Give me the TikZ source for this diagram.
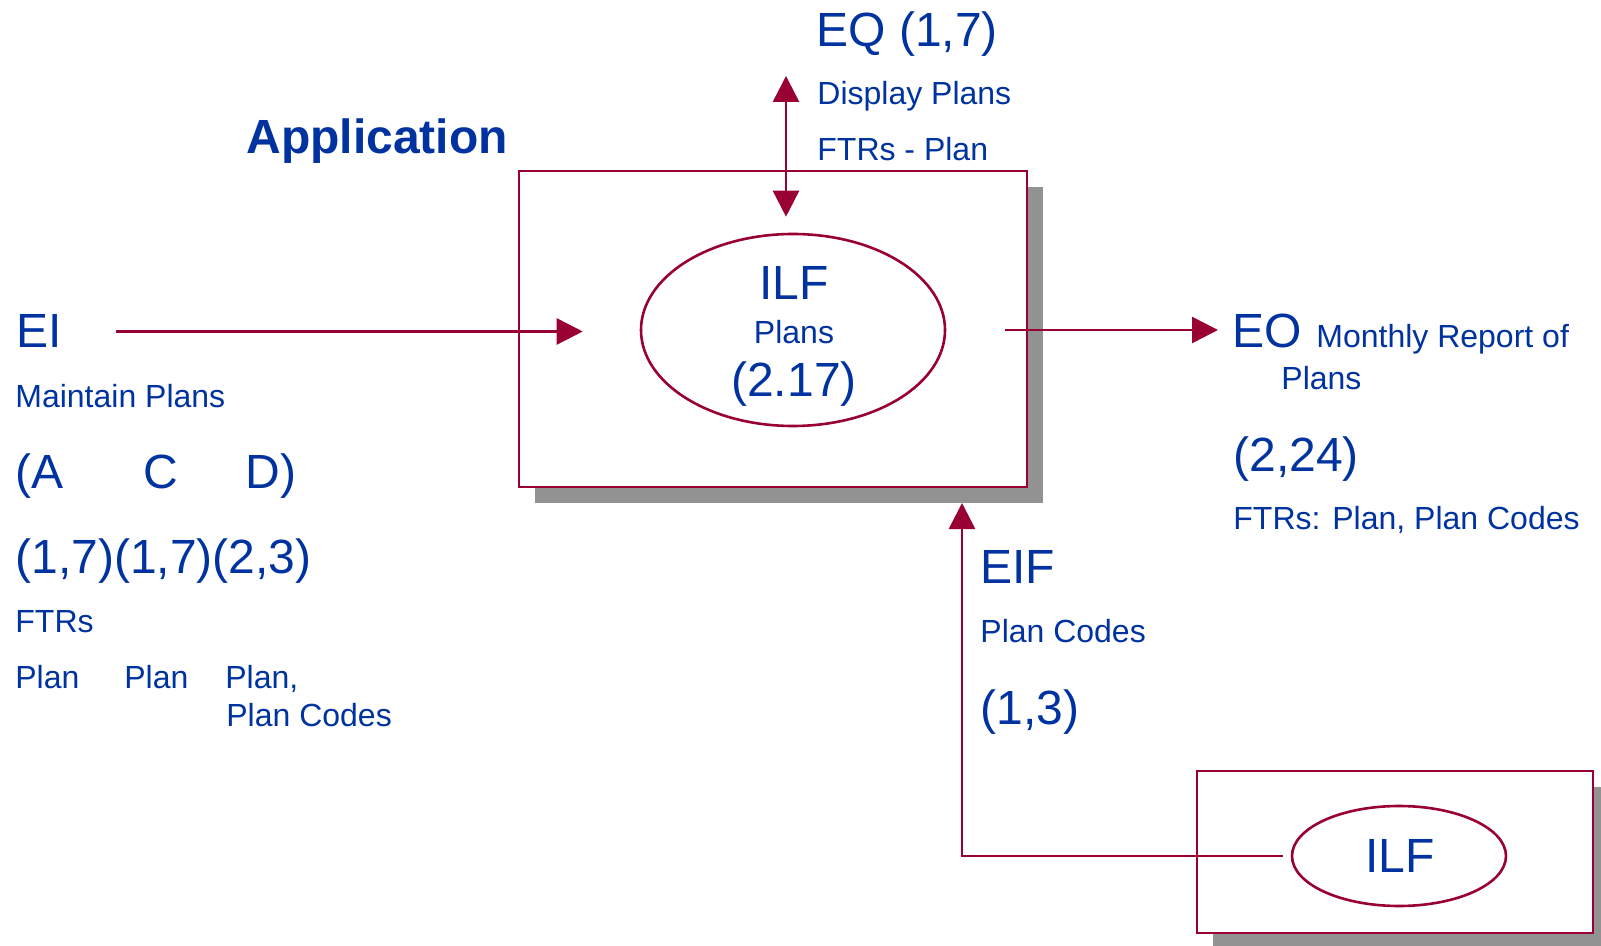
\documentclass[tikz,border=0pt]{standalone}
\usepackage{fontspec}
\setmainfont{Liberation Sans}
\usepackage{tikz}
\usetikzlibrary{arrows.meta, shapes.geometric, shadows}
\definecolor{fpred}{HTML}{990033}
\definecolor{fpblue}{HTML}{0033A0}
\definecolor{fpgray}{HTML}{929292}

\begin{document}
\begin{tikzpicture}[x=0.5pt, y=-0.5pt,
  big/.style={text=fpblue, font=\fontsize{24}{29}\selectfont, inner sep=0pt, anchor=base west},
  small/.style={text=fpblue, font=\fontsize{16}{19}\selectfont, inner sep=0pt, anchor=base west},
  appbox/.style={draw=fpred, line width=1.3pt, fill=white, inner sep=0pt,
    drop shadow={shadow xshift=8pt, shadow yshift=-8pt, fill=fpgray, opacity=1}},
  filebox/.style={ellipse, draw=fpred, line width=1.3pt, inner sep=0pt},
  flow/.style={fpred, line width=1.3pt, -{Triangle[length=13pt, width=13pt]}},
  flowboth/.style={fpred, line width=1.3pt, {Triangle[length=13pt, width=13pt]}-{Triangle[length=13pt, width=13pt]}}]
  \useasboundingbox (0,0) rectangle (1601,946);
  % application boundary and the files
  \node[appbox, minimum width=254pt, minimum height=158pt] (app) at (773,329) {};
  \node[appbox, minimum width=198pt, minimum height=81pt] (ext) at (1395,852) {};
  \node[filebox, minimum width=152pt, minimum height=96pt] (ilf) at (793,330) {};
  \node[filebox, minimum width=107pt, minimum height=50pt] (ilfext) at (1399,856) {};
  \node[text=fpblue, font=\bfseries\fontsize{24}{29}\selectfont, inner sep=0pt, anchor=base west] (apptitle) at (246,154) {Application};
  \node[big, anchor=base] (ilfname) at (794,300) {ILF};
  \node[small, anchor=base] (ilfplans) at (794,344) {Plans};
  \node[big, anchor=base] (ilfsize) at (794,397) {(2.17)};
  \node[big, anchor=base] (extname) at (1400,872) {ILF};
  % EQ
  \node[big] (eq) at (816,47) {EQ (1,7)};
  \node[small] (eqname) at (817,105) {Display Plans};
  \node[small] (eqftr) at (817,161) {FTRs - Plan};
  % EI
  \node[big] (ei) at (16,348) {EI};
  \node[small] (einame) at (15,408) {Maintain Plans};
  \node[big] (eia) at (15,488) {(A};
  \node[big] (eic) at (143,488) {C};
  \node[big] (eid) at (245,488) {D)};
  \node[big] (eisize) at (15,574) {(1,7)(1,7)(2,3)};
  \node[small] (eiftr) at (15,632) {FTRs};
  \node[small] (eiftra) at (15,688) {Plan};
  \node[small] (eiftrc) at (124,688) {Plan};
  \node[small] (eiftrd) at (225,688) {Plan,};
  \node[small] (eiftrd2) at (226,726) {Plan Codes};
  % EO
  \node[big] (eo) at (1232,348) {EO};
  \node[small] (eoname) at (1316,348) {Monthly Report of};
  \node[small] (eoname2) at (1281,390) {Plans};
  \node[big] (eosize) at (1233,472) {(2,24)};
  \node[small] (eoftr) at (1233,530) {FTRs: Plan, Plan Codes};
  % EIF
  \node[big] (eif) at (980,583) {EIF};
  \node[small] (eifname) at (980,642) {Plan Codes};
  \node[big] (eifsize) at (980,724) {(1,3)};
  % flows
  \coordinate (eqtip) at (786,76);
  \coordinate (eiftip) at (962,503);
  \draw[flowboth, shorten >=8pt] (eqtip) -- (eqtip |- ilf.north);
  \draw[flow, shorten <=27pt, shorten >=28.5pt] (ei.east) -- (ei.east -| ilf.west);
  \draw[flow, shorten <=29.5pt, shorten >=7pt] (ilf.east) -- (ilf.east -| eo.west);
  \draw[flow, shorten <=4pt] (ilfext.west) -| (eiftip);
\end{tikzpicture}
\end{document}
